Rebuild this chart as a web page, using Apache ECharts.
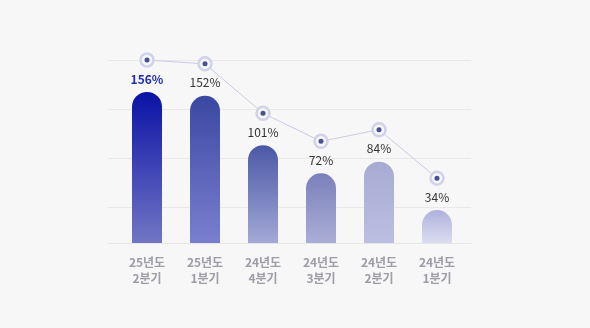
<!DOCTYPE html>
<html>
<head>
<meta charset="utf-8">
<script src="https://cdn.jsdelivr.net/npm/echarts@6/dist/echarts.min.js"></script>
<style>
  html, body { margin: 0; padding: 0; background: #f7f7f7; }
  #chart { width: 590px; height: 328px; }
</style>
</head>
<body>
<div id="chart"></div>
<script>
// Quarterly ratio, latest quarter first
const categories = ['25년도\n2분기', '25년도\n1분기', '24년도\n4분기', '24년도\n3분기', '24년도\n2분기', '24년도\n1분기'];
const ratioValues = [156, 152, 101, 72, 84, 34];

// Gradient stops (top, bottom) for each bar
const barGradients = [
  ['#0a12a6', '#7276c4'],
  ['#3a48a2', '#7a7fcf'],
  ['#4b58a6', '#a3a8d6'],
  ['#7a80ba', '#aaaed6'],
  ['#a7aad2', '#bcbfe2'],
  ['#aeb1dc', '#dcddf0']
];

const FONT = '"Noto Sans CJK KR", "Noto Sans", sans-serif';
const chart = echarts.init(document.getElementById('chart'), null, { renderer: 'canvas' });

const barData = ratioValues.map((v, i) => ({
  value: v,
  itemStyle: {
    color: new echarts.graphic.LinearGradient(0, 0, 0, 1, [
      { offset: 0, color: barGradients[i][0] },
      { offset: 1, color: barGradients[i][1] }
    ])
  },
  label: i === 0
    ? { color: '#1e2cb0', fontWeight: 600 }
    : { color: '#333333', fontWeight: 400 }
}));

chart.setOption({
  backgroundColor: '#f7f7f7',
  animation: false,
  grid: [
    // background guides
    { left: 108, right: 119, top: 60, bottom: 85 },
    // bars and trend line
    { left: 118, width: 348, top: 60, bottom: 85 }
  ],
  xAxis: [
    {
      type: 'value', gridIndex: 0, min: 0, max: 1,
      axisLine: { show: true, onZero: false, lineStyle: { color: '#e6e6e6', width: 1 } },
      axisTick: { show: false }, axisLabel: { show: false }, splitLine: { show: false }
    },
    {
      type: 'category', gridIndex: 1, data: categories,
      axisLine: { show: false }, axisTick: { show: false },
      axisLabel: {
        color: '#9d9da8', fontFamily: FONT, fontSize: 12, fontWeight: 600,
        lineHeight: 16, margin: 11
      }
    }
  ],
  yAxis: [
    {
      type: 'value', gridIndex: 0, inverse: true, min: 0, max: 183, interval: 49,
      axisLine: { show: false }, axisTick: { show: false }, axisLabel: { show: false },
      splitLine: { show: true, lineStyle: { color: '#e9e9e9', width: 1 } }
    },
    {
      // bar scale
      type: 'value', gridIndex: 1, min: 0, max: 189, show: false, splitLine: { show: false }
    },
    {
      // trend line scale, lifted above the bar tops
      type: 'value', gridIndex: 1, min: -33, max: 156, show: false, splitLine: { show: false }
    }
  ],
  series: [
    {
      type: 'bar', xAxisIndex: 1, yAxisIndex: 1,
      data: barData, barWidth: 30,
      itemStyle: { borderRadius: [15, 15, 0, 0] },
      label: {
        show: true, position: 'top', distance: 7,
        fontFamily: FONT, fontSize: 12,
        formatter: p => p.value + '%'
      },
      z: 2
    },
    {
      type: 'line', xAxisIndex: 1, yAxisIndex: 2,
      data: ratioValues,
      lineStyle: { color: '#c9cbe0', width: 1 },
      symbol: 'circle', symbolSize: 13,
      itemStyle: { color: '#f5f5fa', borderColor: '#d0d3e8', borderWidth: 2.5 },
      z: 3
    },
    {
      type: 'scatter', xAxisIndex: 1, yAxisIndex: 2,
      data: ratioValues,
      symbol: 'circle', symbolSize: 5,
      itemStyle: { color: '#1d2878' },
      z: 4
    }
  ]
});
</script>
</body>
</html>
